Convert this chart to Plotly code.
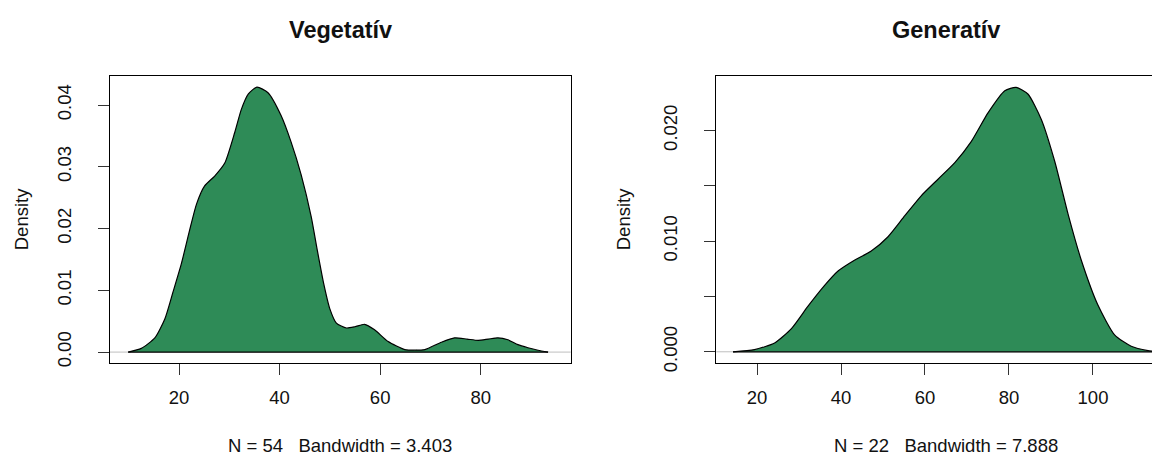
import plotly.graph_objects as go

# ---- data ----
veg_x = [9.9, 12.5, 15.2, 17.2, 18.8, 20.5, 22.1, 23.5, 25.1, 27.1, 29.1, 31.1, 32.4, 33.8,
         35.5, 37.7, 40.3, 42.3, 44.3, 46.3, 47.5, 48.8, 50.0, 51.3, 53.3, 55.0, 56.9, 58.9,
         61.6, 64.9, 66.9, 68.9, 72.2, 74.8, 77.3, 79.5, 81.5, 83.4, 85.4, 87.4, 89.4, 91.4, 93.4]
veg_y = [0.0000, 0.0006, 0.0023, 0.0054, 0.0097, 0.0144, 0.0197, 0.0240, 0.0269, 0.0285,
         0.0306, 0.0356, 0.0393, 0.0418, 0.0429, 0.0420, 0.0383, 0.0340, 0.0287, 0.0219,
         0.0165, 0.0110, 0.0070, 0.0047, 0.0039, 0.0041, 0.0045, 0.0036, 0.0017, 0.0004,
         0.0003, 0.0004, 0.0016, 0.0023, 0.0021, 0.0019, 0.0021, 0.0023, 0.0020, 0.0012,
         0.0007, 0.0003, 0.0000]

gen_x = [14.3, 19.4, 24.2, 28.2, 32.1, 36.1, 39.3, 43.3, 47.2, 51.2, 55.2, 59.1, 63.1, 67.1,
         71.0, 75.0, 79.0, 81.7, 84.5, 87.7, 90.9, 94.1, 97.2, 101.2, 105.2, 109.1, 113.1, 115.5]
gen_y = [0.0000, 0.0002, 0.0008, 0.0021, 0.0041, 0.0060, 0.0073, 0.0083, 0.0091, 0.0104,
         0.0123, 0.0141, 0.0156, 0.0171, 0.0190, 0.0216, 0.0236, 0.0239, 0.0233, 0.0210,
         0.0172, 0.0124, 0.0083, 0.0042, 0.0015, 0.0005, 0.0001, 0.0000]

veg_xticks = [20, 40, 60, 80]
veg_yticks = [0.00, 0.01, 0.02, 0.03, 0.04]
veg_ylabels = ["0.00", "0.01", "0.02", "0.03", "0.04"]
gen_xticks = [20, 40, 60, 80, 100]
gen_yticks = [0.000, 0.005, 0.010, 0.015, 0.020]
gen_ylabels = ["0.000", "", "0.010", "", "0.020"]

titles = ["Vegetatív", "Generatív"]
subtitles = ["N = 54\u00a0\u00a0 Bandwidth = 3.403", "N = 22\u00a0\u00a0 Bandwidth = 7.888"]

W, H = 1160, 457
FILL = "#2E8B57"
FONT = "Liberation Sans, Arial, sans-serif"

fig = go.Figure()
series = [(veg_x, veg_y, "x", "y"), (gen_x, gen_y, "x2", "y2")]
for xs, ys, xa, ya in series:
    fig.add_trace(go.Scatter(x=xs, y=ys, mode="lines", fill="tozeroy", fillcolor=FILL,
                             line=dict(color="black", width=1.2, shape="spline", smoothing=0.6),
                             xaxis=xa, yaxis=ya, hoverinfo="skip"))

ydom = [(H - 361.7) / H, (H - 69) / H]
common_x = dict(ticks="outside", ticklen=11, tickcolor="#333", tickwidth=1,
                showline=True, linecolor="black", linewidth=1, showgrid=False,
                zeroline=False, ticklabelstandoff=7, tickfont=dict(size=18.5, color="#111"))
common_y = dict(ticks="outside", ticklen=11, tickcolor="#333", tickwidth=1,
                showline=True, linecolor="black", linewidth=1, showgrid=False,
                zeroline=False, ticklabelstandoff=20,
                tickangle=-90, tickfont=dict(size=18.5, color="#111"))

fig.update_layout(
    width=W, height=H, margin=dict(l=0, r=0, t=0, b=0),
    paper_bgcolor="white", plot_bgcolor="white", showlegend=False,
    font=dict(family=FONT, size=18.5, color="#111"),
    xaxis=dict(domain=[102 / W, 562.7 / W], range=[6.278, 97.90], anchor="y",
               tickvals=veg_xticks, mirror=True, **common_x),
    yaxis=dict(domain=ydom, range=[-0.0017, 0.04476], anchor="x",
               tickvals=veg_yticks, ticktext=veg_ylabels, mirror=True, **common_y),
    xaxis2=dict(domain=[708.3 / W, 1.0], range=[10.31, 117.86], anchor="y2",
                tickvals=gen_xticks, mirror=True, **common_x),
    yaxis2=dict(domain=ydom, range=[-0.000975, 0.02496], anchor="x2",
                tickvals=gen_yticks, ticktext=gen_ylabels, mirror=False, **common_y),
)

for xs, ys, xa, ya in series:
    # gray zero line (R's zero.line), beneath the density polygons
    fig.add_shape(type="line", xref=xa + " domain", yref=ya, x0=0, x1=1, y0=0, y1=0,
                  line=dict(color="#BEBEBE", width=1), layer="below")
    # polygon outline along the baseline
    fig.add_shape(type="line", xref=xa, yref=ya, x0=xs[0], x1=xs[-1], y0=0, y1=0,
                  line=dict(color="black", width=1.2), layer="above")

centers = [332.4 / W, 937.6 / W]
ylab_x = [13 / W, 615 / W]
for i in range(2):
    fig.add_annotation(text="<b>" + titles[i] + "</b>", x=centers[i], y=1 - 22 / H,
                       xref="paper", yref="paper", showarrow=False,
                       xanchor="center", yanchor="middle",
                       font=dict(size=23.5, color="#111", family=FONT))
    fig.add_annotation(text=subtitles[i], x=centers[i], y=1 - 446 / H,
                       xref="paper", yref="paper", showarrow=False,
                       xanchor="center", yanchor="middle",
                       font=dict(size=18.5, color="#111", family=FONT))
    fig.add_annotation(text="Density", x=ylab_x[i], y=1 - 215.5 / H, textangle=-90,
                       xref="paper", yref="paper", showarrow=False,
                       xanchor="center", yanchor="middle",
                       font=dict(size=18.5, color="#111", family=FONT))

fig.write_html("out.html")
